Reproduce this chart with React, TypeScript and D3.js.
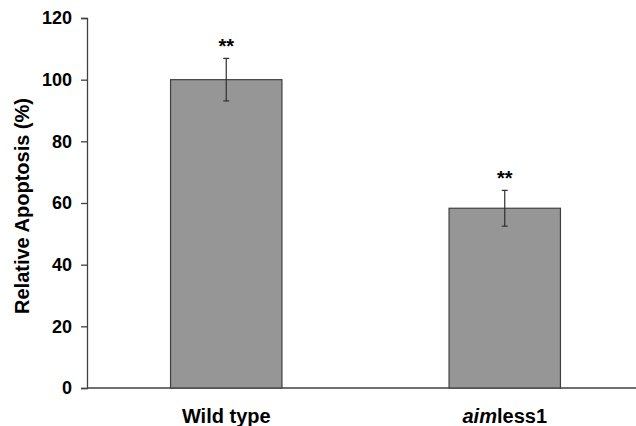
import { useRef, useEffect } from 'react'
import * as d3 from 'd3'

const groups = ['Wild type', 'aimless1']
const values = [100, 58.3]
const errors = [6.9, 5.8]
const marks = ['**', '**']
const yTicks = [0, 20, 40, 60, 80, 100, 120]

const App = () => {
  const ref = useRef<SVGSVGElement>(null)

  useEffect(() => {
    const svg = d3.select(ref.current)
    svg.selectAll('*').remove()

    const width = 636
    const height = 426
    const font = '"Liberation Sans", Arial, sans-serif'

    const x = d3.scaleBand().domain(groups).range([87, 644]).paddingInner(0.6).paddingOuter(0.3)
    const y = d3.scaleLinear().domain([0, 120]).range([388, 18])

    svg.attr('width', width).attr('height', height).style('display', 'block')
      .style('font-family', font)

    // y axis
    const yAxis = svg.append('g').attr('transform', 'translate(87,0)')
      .call(d3.axisLeft(y).tickValues(yTicks).tickSize(6).tickPadding(9))
    yAxis.select('.domain').attr('stroke', '#404040').attr('stroke-width', 1.3)
    yAxis.selectAll('.tick line').attr('stroke', '#404040').attr('stroke-width', 1.3)
    yAxis.selectAll('.tick text')
      .attr('fill', '#000').style('font-size', '18px').style('font-weight', 'bold')
      .style('font-family', font)

    // x axis line
    svg.append('line')
      .attr('x1', 87).attr('x2', width)
      .attr('y1', y(0)).attr('y2', y(0))
      .attr('stroke', '#404040').attr('stroke-width', 1.3)

    const bw = x.bandwidth()

    svg.selectAll('rect.bar')
      .data(groups)
      .enter()
      .append('rect')
      .attr('class', 'bar')
      .attr('x', (d) => x(d)!)
      .attr('width', bw)
      .attr('y', (d, i) => y(values[i]))
      .attr('height', (d, i) => y(0) - y(values[i]))
      .attr('fill', '#969696')
      .attr('stroke', '#404040')
      .attr('stroke-width', 1.2)

    const eb = svg.append('g').attr('stroke', '#303030').attr('stroke-width', 1.2)
    groups.forEach((g, i) => {
      const cx = x(g)! + bw / 2
      const top = y(values[i] + errors[i])
      const bot = y(values[i] - errors[i])
      eb.append('line').attr('x1', cx).attr('x2', cx).attr('y1', top).attr('y2', bot)
      eb.append('line').attr('x1', cx - 3).attr('x2', cx + 3).attr('y1', top).attr('y2', top)
      eb.append('line').attr('x1', cx - 3).attr('x2', cx + 3).attr('y1', bot).attr('y2', bot)

      svg.append('text')
        .attr('x', cx)
        .attr('y', top - 5.5)
        .attr('text-anchor', 'middle')
        .style('font-size', '20px')
        .style('font-weight', 'bold')
        .text(marks[i])
    })

    // x labels
    const lbl = svg.selectAll('text.xlab')
      .data(groups)
      .enter()
      .append('text')
      .attr('class', 'xlab')
      .attr('x', (d) => x(d)! + bw / 2)
      .attr('y', 423)
      .attr('text-anchor', 'middle')
      .style('font-size', '20px')
      .style('font-weight', 'bold')
    lbl.each(function (d) {
      const t = d3.select(this)
      if (d === 'aimless1') {
        t.append('tspan').style('font-style', 'italic').text('aim')
        t.append('tspan').text('less1')
      } else {
        t.text(d)
      }
    })

    // y title
    svg.append('text')
      .attr('transform', 'translate(29,206) rotate(-90)')
      .attr('text-anchor', 'middle')
      .style('font-size', '20px')
      .style('font-weight', 'bold')
      .text('Relative Apoptosis (%)')
  }, [])

  return (
    <div style={{ position: 'fixed', left: 0, top: 0, width: 636, height: 426, overflow: 'hidden', background: '#fff' }}>
      <svg ref={ref} />
    </div>
  )
}

export default App
